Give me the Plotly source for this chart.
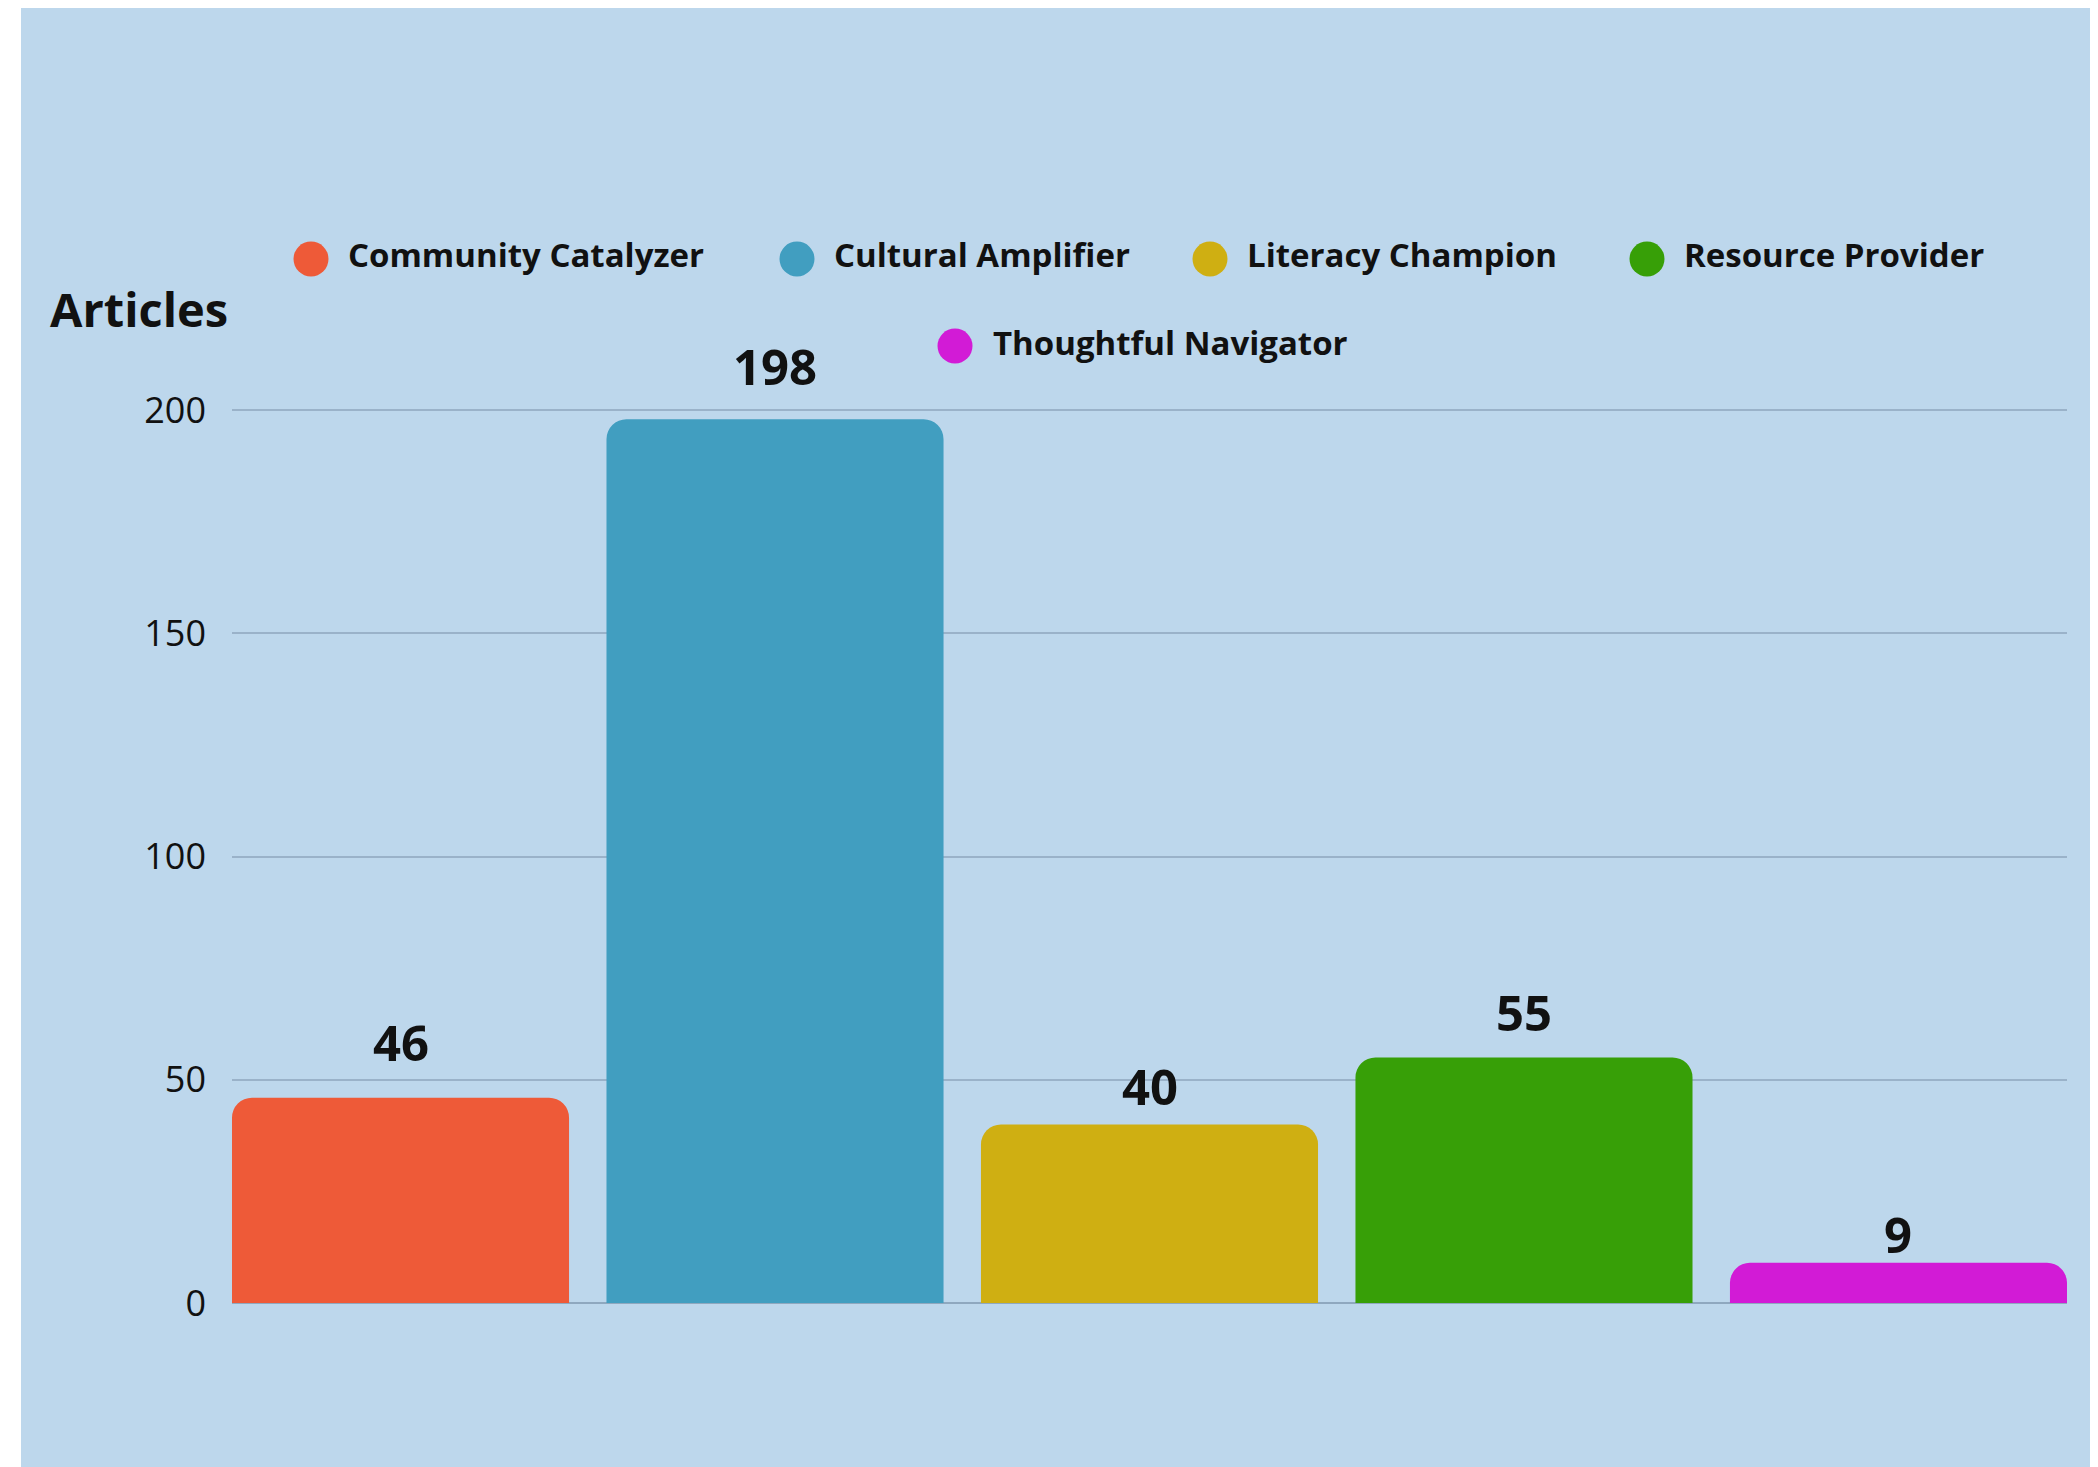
import plotly.graph_objects as go

categories = ["Community Catalyzer", "Cultural Amplifier", "Literacy Champion",
              "Resource Provider", "Thoughtful Navigator"]
articles = [46, 198, 40, 55, 9]
colors = ["#EE5A38", "#419EC0", "#CFAF12", "#379F07", "#D21BD6"]
y_ticks = [0, 50, 100, 150, 200]

# label pixel shifts above each bar (style, not data)
label_shift = [21, 18, 3, 10, -6]

OFF = 8  # page body margin
W, H = 2098 - OFF, 1467 - OFF
L, R, T, B = 224, 31, 400, 164
PW, PH = W - L - R, H - T - B


def px(p):
    return (p - OFF - L) / PW


def py(p):
    return (H - B - (p - OFF)) / PH


FONT = "Open Sans"

fig = go.Figure()
fig.add_trace(go.Bar(
    x=categories, y=articles, marker=dict(color=colors, line=dict(width=0)),
    showlegend=False, hoverinfo="x+y",
))

shapes = []
# outer card and shadow
shapes.append(dict(type="rect", xref="paper", yref="paper", layer="below",
                   x0=px(2089), x1=px(2095), y0=py(1480), y1=py(12),
                   fillcolor="#B0B4B8", line=dict(width=0)))
shapes.append(dict(type="rect", xref="paper", yref="paper", layer="below",
                   x0=px(21), x1=px(2090), y0=py(1480), y1=py(8),
                   fillcolor="#BDD7EC", line=dict(width=0)))

annotations = []
# legend (circles + labels)
legend_rows = [
    (311, 346, 259), (797, 832, 259), (1210, 1245, 259), (1647, 1682, 259),
    (955, 991, 346),
]
for (cx, tx, cy), name, col in zip(legend_rows, categories, colors):
    r = 17.5
    shapes.append(dict(type="circle", xref="paper", yref="paper",
                       x0=px(cx - r), x1=px(cx + r), y0=py(cy + r), y1=py(cy - r),
                       fillcolor=col, line=dict(width=0)))
    annotations.append(dict(xref="paper", yref="paper", x=px(tx), y=py(cy - 4),
                            xanchor="left", yanchor="middle", showarrow=False,
                            text=f"<b>{name}</b>",
                            font=dict(family=FONT, size=33, color="#111111")))

# axis title
annotations.append(dict(xref="paper", yref="paper", x=px(48), y=py(309),
                        xanchor="left", yanchor="middle", showarrow=False,
                        text="<b>Articles</b>",
                        font=dict(family=FONT, size=47, color="#111111")))

# value labels
for c, v, s in zip(categories, articles, label_shift):
    annotations.append(dict(x=c, y=v, xref="x", yref="y", yanchor="bottom",
                            showarrow=False, yshift=s, text=f"<b>{v}</b>",
                            font=dict(family=FONT, size=49, color="#111111")))

fig.update_layout(
    width=W, height=H,
    margin=dict(l=L, r=R, t=T, b=B, pad=0),
    paper_bgcolor="white", plot_bgcolor="rgba(0,0,0,0)",
    bargap=0.1,
    shapes=shapes, annotations=annotations,
    xaxis=dict(range=[-0.45, 4.45], showticklabels=False, showgrid=False,
               zeroline=False, showline=False, ticks=""),
    yaxis=dict(range=[0, 200.5], tickvals=y_ticks, ticktext=[str(t) for t in y_ticks],
               showgrid=True, gridcolor="#9AB2C9", gridwidth=1.5,
               zeroline=True, zerolinecolor="#8FA8BF", zerolinewidth=1.5,
               showline=False, ticks="", ticklabelstandoff=25,
               tickfont=dict(family=FONT, size=36, color="#111111")),
    showlegend=False,
)
fig.update_traces(marker_cornerradius=20, cliponaxis=False)

fig.write_html("out.html")
